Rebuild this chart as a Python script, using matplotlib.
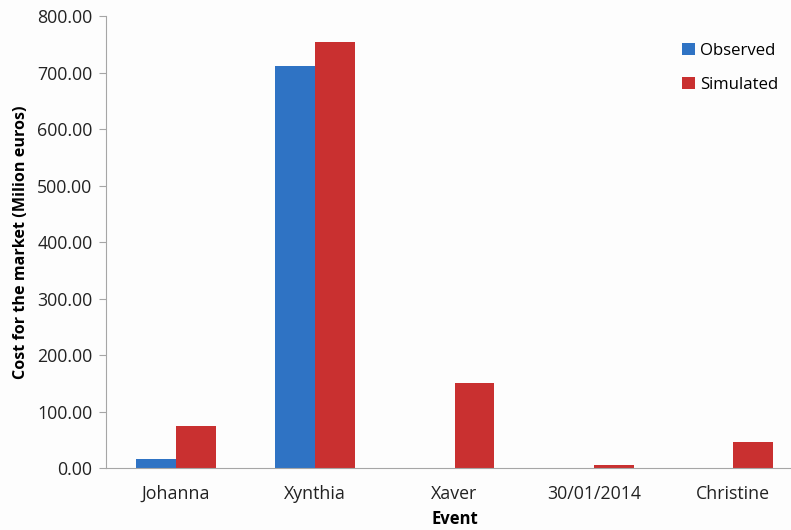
import numpy as np
import matplotlib
matplotlib.use("Agg")
import matplotlib.pyplot as plt
from matplotlib.ticker import FormatStrFormatter

events = ["Johanna", "Xynthia", "Xaver", "30/01/2014", "Christine"]
observed = [15.5, 712.0, 0.0, 0.0, 0.0]
simulated = [74.5, 754.0, 150.5, 5.3, 46.0]

plt.rcParams["font.family"] = ["Open Sans", "DejaVu Sans"]

fig = plt.figure(figsize=(7.91, 5.30), dpi=100)
fig.patch.set_facecolor("#fdfdfd")
ax = fig.add_axes([0.1346, 0.117, 0.880, 0.852])
ax.set_facecolor("#fdfdfd")

x = np.arange(len(events))
w = 0.287
ax.bar(x - w / 2, observed, w, color="#2f73c4", label="Observed")
ax.bar(x + w / 2, simulated, w, color="#c93030", label="Simulated")

ax.set_xlim(-0.5, len(events) - 0.5)
ax.set_ylim(0, 800)
ax.set_yticks(np.arange(0, 801, 100))
ax.yaxis.set_major_formatter(FormatStrFormatter("%.2f"))
ax.set_xticks(x)
ax.set_xticklabels(events)

for side in ["top", "right"]:
    ax.spines[side].set_visible(False)
for side in ["left", "bottom"]:
    ax.spines[side].set_color("#a6a6a6")
ax.tick_params(axis="y", length=5, color="#a6a6a6", labelsize=12.8, pad=5,
               labelcolor="#222222")
ax.tick_params(axis="x", length=0, labelsize=12.8, pad=12, labelcolor="#222222")

ax.set_ylabel("Cost for the market (Milion euros)", fontweight="bold", fontsize=11.6, labelpad=6)
ax.set_xlabel("Event", fontweight="bold", fontsize=12, labelpad=5)

ax.legend(loc="upper left", bbox_to_anchor=(0.805, 0.975), frameon=False,
          fontsize=12.1, handlelength=0.75, handleheight=0.75,
          handletextpad=0.35, labelspacing=1.05)

fig.savefig("out.png", dpi=100, facecolor=fig.get_facecolor())
